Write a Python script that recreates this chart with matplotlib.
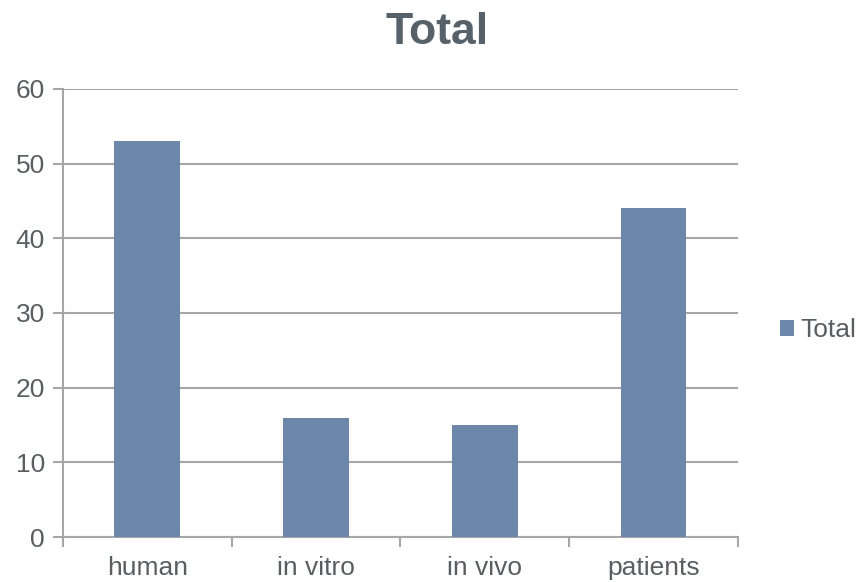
import matplotlib.pyplot as plt
import numpy as np

plt.rcParams['font.family'] = ['Liberation Sans', 'DejaVu Sans']

# 데이터
categories = ['human', 'in vitro', 'in vivo', 'patients']
totals = [53, 16, 15, 44]

bar_color = '#6D87AA'
grid_color = '#A6A6A6'
text_color = '#595E63'
title_color = '#566169'

fig = plt.figure(figsize=(8.62, 5.82), dpi=100)
ax = fig.add_axes([0.0731, 0.0773, 0.783, 0.770])

x = np.arange(len(categories))
ax.bar(x, totals, width=0.39, color=bar_color, label='Total', zorder=3)

ax.set_xlim(-0.5, len(categories) - 0.5)
ax.set_ylim(0, 60)
ax.set_yticks(range(0, 61, 10))
ax.yaxis.grid(True, color=grid_color, linewidth=1.5, zorder=0)

ax.set_xticks(x)
ax.set_xticklabels(categories)
ax.set_xticks(np.arange(-0.5, len(categories), 1.0), minor=True)
ax.tick_params(axis='x', which='major', length=0, pad=14,
               labelsize=19, labelcolor=text_color)
ax.tick_params(axis='x', which='minor', length=7, width=1.5, color=grid_color)
ax.tick_params(axis='y', length=7, width=1.5, color=grid_color,
               labelsize=19, labelcolor=text_color, pad=6)

for s in ['top', 'right']:
    ax.spines[s].set_visible(False)
for s in ['left', 'bottom']:
    ax.spines[s].set_color(grid_color)
    ax.spines[s].set_linewidth(1.5)

fig.text(0.507, 0.945, 'Total', ha='center', va='center', fontsize=32,
         fontweight='bold', color=title_color)

leg = fig.legend(loc='center left', bbox_to_anchor=(0.889, 0.433), frameon=False,
                 fontsize=19, handlelength=0.55, handleheight=0.55,
                 handletextpad=0.25, borderpad=0)
for t in leg.get_texts():
    t.set_color(text_color)

fig.savefig('out.png', dpi=100)
